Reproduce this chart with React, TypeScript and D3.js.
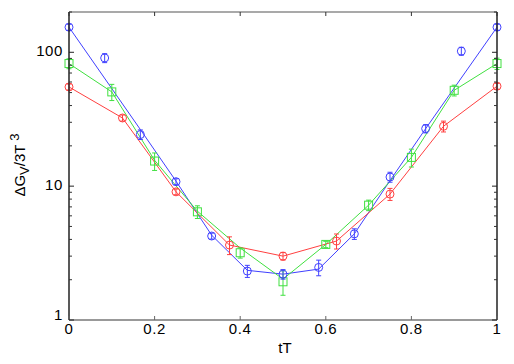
import React from 'react';
import * as d3 from 'd3';

// blue circles
const blueT = [0, 1 / 12, 1 / 6, 1 / 4, 1 / 3, 5 / 12, 1 / 2, 7 / 12, 2 / 3, 3 / 4, 5 / 6, 11 / 12, 1];
const blueVal = [154, 90.7, 24.3, 10.8, 4.24, 2.32, 2.2, 2.47, 4.4, 11.7, 26.9, 102, 154];
const blueErr = [8, 7, 2, 0.55, 0.22, 0.24, 0.18, 0.33, 0.4, 1.0, 1.9, 7, 8];
const blueLineT = [0, 1 / 6, 1 / 4, 1 / 3, 5 / 12, 1 / 2, 7 / 12, 2 / 3, 3 / 4, 5 / 6, 1];
const blueLineVal = [154, 26.5, 10.9, 4.3, 2.35, 2.2, 2.4, 4.4, 11, 26.9, 154];

// red circles
const redT = [0, 1 / 8, 1 / 4, 3 / 8, 1 / 2, 5 / 8, 3 / 4, 7 / 8, 1];
const redVal = [55.1, 32.3, 9.07, 3.63, 3.0, 3.89, 8.72, 28.0, 55.8];
const redErr = [2.8, 1.7, 0.45, 0.55, 0.2, 0.5, 0.9, 2.6, 2.8];

// green squares
const greenT = [0, 0.1, 0.2, 0.3, 0.4, 0.5, 0.6, 0.7, 0.8, 0.9, 1];
const greenVal = [82.4, 50.6, 15.4, 6.43, 3.18, 1.93, 3.67, 7.21, 16.4, 52.0, 82.4];
const greenErr = [7, 7, 2.3, 0.7, 0.28, 0.4, 0.2, 0.65, 2.5, 4.8, 8];
const greenLineT = [0, 0.1, 0.2, 0.3, 0.4, 0.5, 0.6, 0.7, 0.8, 0.9, 1];
const greenLineVal = [82.4, 50.6, 15.6, 6.5, 3.45, 2.02, 3.67, 7.21, 16.4, 52.0, 82.4];

const xTicks = [0, 0.2, 0.4, 0.6, 0.8, 1];
const xTickLabels = ['0', '0.2', '0.4', '0.6', '0.8', '1'];
const yTicks = [1, 10, 100];
const yTickLabels = ['1', '10', '100'];

const W = 514;
const H = 364;
const x = d3.scaleLinear().domain([0, 1]).range([69, 497]);
const y = d3.scaleLog().domain([1, 200]).range([320, 12]);

const BLUE = '#4040ff';
const RED = '#ff4040';
const GREEN = '#40e040';
const FONT = '"Liberation Sans", Arial, sans-serif';

const minorTicks: number[] = [];
[1, 10, 100].forEach(d => {
  for (let k = 2; k <= 9; k++) if (d * k <= 200) minorTicks.push(d * k);
});

const line = d3.line<[number, number]>().x(d => x(d[0])).y(d => y(d[1]));

function Series({ t, v, e, color, square }: { t: number[]; v: number[]; e: number[]; color: string; square?: boolean }) {
  return (
    <g stroke={color} fill="none" strokeWidth={1}>
      {t.map((tt, i) => {
        const cx = x(tt);
        const cy = y(v[i]);
        const y1 = y(v[i] + e[i]);
        const y2 = y(Math.max(v[i] - e[i], 1e-3));
        return (
          <g key={i}>
            <line x1={cx} x2={cx} y1={y1} y2={y2} />
            <line x1={cx - 2.5} x2={cx + 2.5} y1={y1} y2={y1} />
            <line x1={cx - 2.5} x2={cx + 2.5} y1={y2} y2={y2} />
            {square ? (
              <rect x={cx - 4} y={cy - 4} width={8} height={8} />
            ) : (
              <circle cx={cx} cy={cy} r={4} />
            )}
          </g>
        );
      })}
    </g>
  );
}

export default function App() {
  const zip = (a: number[], b: number[]) => a.map((d, i) => [d, b[i]] as [number, number]);
  return (
    <div style={{ position: 'absolute', left: 0, top: 0 }}>
      <svg width={W} height={H} style={{ display: 'block', background: '#fff' }} fontFamily={FONT}>
        {/* lines */}
        <path d={line(zip(blueLineT, blueLineVal)) || ''} stroke={BLUE} fill="none" strokeWidth={1} />
        <path d={line(zip(greenLineT, greenLineVal)) || ''} stroke={GREEN} fill="none" strokeWidth={1} />
        <path d={line(zip(redT, redVal)) || ''} stroke={RED} fill="none" strokeWidth={1} />

        <Series t={greenT} v={greenVal} e={greenErr} color={GREEN} square />
        <Series t={redT} v={redVal} e={redErr} color={RED} />
        <Series t={blueT} v={blueVal} e={blueErr} color={BLUE} />

        {/* frame */}
        <line x1={69} x2={497} y1={12} y2={12} stroke="#555" strokeWidth={1.2} />
        <line x1={69} x2={497} y1={320} y2={320} stroke="#777" strokeWidth={1.6} />
        <line x1={69} x2={69} y1={12} y2={320} stroke="#222" strokeWidth={1.5} />
        <line x1={497} x2={497} y1={12} y2={320} stroke="#222" strokeWidth={1.5} />

        {/* x ticks */}
        {xTicks.map((t, i) => (
          <g key={'x' + i}>
            <line x1={x(t)} x2={x(t)} y1={320} y2={316} stroke="#666" />
            <line x1={x(t)} x2={x(t)} y1={12} y2={16} stroke="#333" />
            <text x={x(t)} y={334} textAnchor="middle" fontSize={15} letterSpacing={0.6} fill="#000">
              {xTickLabels[i]}
            </text>
          </g>
        ))}

        {/* y ticks */}
        {yTicks.map((t, i) => (
          <g key={'y' + i}>
            <line x1={69} x2={74} y1={y(t)} y2={y(t)} stroke="#222" />
            <line x1={497} x2={492} y1={y(t)} y2={y(t)} stroke="#222" />
            <text x={63} y={y(t) + (t === 1 ? 0 : 4)} textAnchor="end" fontSize={15} letterSpacing={0.6} fill="#000">
              {yTickLabels[i]}
            </text>
          </g>
        ))}
        {minorTicks.map((t, i) => (
          <g key={'m' + i}>
            <line x1={69} x2={72} y1={y(t)} y2={y(t)} stroke="#333" />
            <line x1={497} x2={494} y1={y(t)} y2={y(t)} stroke="#333" />
          </g>
        ))}

        {/* axis titles */}
        <text x={285} y={353} textAnchor="middle" fontSize={15} fill="#000">tT</text>
        <text transform="translate(25,165) rotate(-90)" textAnchor="middle" fontSize={15} fill="#000">
          ΔG<tspan dy={4} fontSize={13}>V</tspan>
          <tspan dy={-4}>/3T </tspan>
          <tspan dy={-6} fontSize={13}>3</tspan>
        </text>
      </svg>
    </div>
  );
}
